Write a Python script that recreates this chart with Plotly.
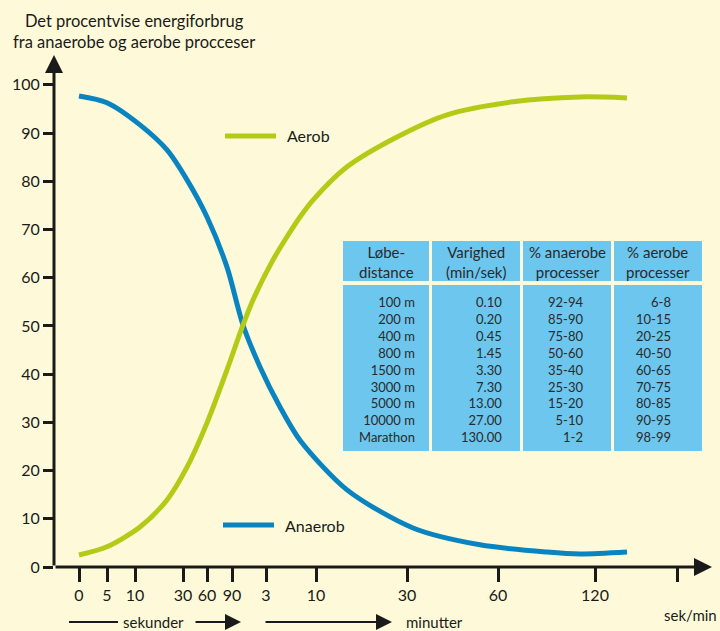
import plotly.graph_objects as go

# ---------------- data ----------------
# positions of the (non-linear) time ticks along the x axis, and their labels
time_tick_pos = [0, 2.8, 5.6, 10.4, 12.8, 15.3, 18.7, 23.7, 32.8, 41.9, 51.6, 59.8]
time_tick_labels = ['0', '5', '10', '30', '60', '90', '3', '10', '30', '60', '120', '']

y_ticks = [0, 10, 20, 30, 40, 50, 60, 70, 80, 90, 100]

anaerob_x = [0, 2.8, 6.1, 8.8, 10.8, 12.8, 14.8, 16.4, 18.1, 20.1, 22.1, 26.8, 33.4, 40.1, 46.8, 50.1, 54.8]
anaerob_y = [97.7, 96.3, 91.7, 86.5, 80.3, 72.6, 62.2, 50.2, 41.5, 33.2, 26.3, 16.0, 8.1, 4.6, 3.1, 2.7, 3.1]

aerob_x = [0, 2.8, 6.1, 8.8, 10.8, 12.8, 14.8, 16.4, 17.4, 19.4, 20.8, 22.1, 23.4, 26.8, 31.8, 36.8, 43.4, 50.1, 54.8]
aerob_y = [2.5, 4.2, 8.3, 13.9, 20.7, 29.9, 40.9, 50.2, 55.4, 63.7, 68.5, 72.6, 76.1, 83.0, 89.2, 93.8, 96.5, 97.5, 97.3]

table_headers = ['Løbe-<br>distance', 'Varighed<br>(min/sek)', '% anaerobe<br>processer', '% aerobe<br>processer']
distances = ['100 m', '200 m', '400 m', '800 m', '1500 m', '3000 m', '5000 m', '10000 m', 'Marathon']
durations = ['0.10', '0.20', '0.45', '1.45', '3.30', '7.30', '13.00', '27.00', '130.00']
anaerobe_pct = ['92-94', '85-90', '75-80', '50-60', '35-40', '25-30', '15-20', '5-10', '1-2']
aerobe_pct = ['6-8', '10-15', '20-25', '40-50', '60-65', '70-75', '80-85', '90-95', '98-99']
table_columns = [distances, durations, anaerobe_pct, aerobe_pct]

# ---------------- style / layout ----------------
W, H = 720, 631
ML, MR, MT, MB = 54, 8, 55, 64
PW, PH = W - ML - MR, H - MT - MB

BG = '#fefad9'
BLUE = '#0a84c0'
GREEN = '#b3cb17'
TABLE = '#6cc6ee'
FONT = 'Lato'
INK = '#1a1a1a'
TINK = '#2a2a2a'


def px(x):  # figure pixel -> paper x
    return (x - ML) / PW


def py(y):  # figure pixel -> paper y
    return (H - MB - y) / PH


fig = go.Figure()

fig.add_trace(go.Scatter(x=anaerob_x, y=anaerob_y, mode='lines',
                         line=dict(color=BLUE, width=5, shape='spline', smoothing=0.8),
                         showlegend=False, hoverinfo='skip'))
fig.add_trace(go.Scatter(x=aerob_x, y=aerob_y, mode='lines',
                         line=dict(color=GREEN, width=5, shape='spline', smoothing=0.8),
                         showlegend=False, hoverinfo='skip'))

annotations = []
shapes = []

# ---- table drawn with shapes + annotations ----
col_edges = [(343, 429), (432, 520), (523, 611), (614, 702)]
head_top, head_bot = 241, 281
body_top, body_bot = 285, 451
body_right_pad = [12, 16, 26, 29]
for i, (x0, x1) in enumerate(col_edges):
    for (t, b) in [(head_top, head_bot), (body_top, body_bot)]:
        shapes.append(dict(type='rect', xref='paper', yref='paper', layer='above',
                           x0=px(x0), x1=px(x1), y0=py(b), y1=py(t),
                           fillcolor=TABLE, line=dict(width=0)))
    annotations.append(dict(x=px((x0 + x1) / 2), y=py((head_top + head_bot) / 2 + 1),
                            xref='paper', yref='paper', xanchor='center', yanchor='middle',
                            align='center', showarrow=False, text=table_headers[i],
                            font=dict(family=FONT, size=15, color=TINK)))
    annotations.append(dict(x=px(x1 - body_right_pad[i]), y=py(369),
                            xref='paper', yref='paper', xanchor='right', yanchor='middle',
                            align='right', showarrow=False, text='<br>'.join(table_columns[i]),
                            font=dict(family=FONT, size=13, color=TINK)))

# axis lines with arrowheads
annotations.append(dict(x=-2.5, y=106.2, ax=-2.5, ay=0, xref='x', yref='y', axref='x', ayref='y',
                        text='', showarrow=True, arrowhead=2, arrowsize=1.2, arrowwidth=3, arrowcolor=INK))
annotations.append(dict(x=63.3, y=0, ax=-2.5, ay=0, xref='x', yref='y', axref='x', ayref='y',
                        text='', showarrow=True, arrowhead=2, arrowsize=1.2, arrowwidth=3, arrowcolor=INK))

# title
annotations.append(dict(x=px(134), y=py(31.5), xref='paper', yref='paper', xanchor='center', yanchor='middle',
                        text='Det procentvise energiforbrug<br>fra anaerobe og aerobe procceser',
                        showarrow=False, align='center', font=dict(family=FONT, size=16.5, color=INK)))

# line labels
annotations.append(dict(x=20.6, y=89.4, xref='x', yref='y', xanchor='left', yanchor='middle',
                        text='Aerob', showarrow=False, font=dict(family=FONT, size=16, color=INK)))
annotations.append(dict(x=20.4, y=8.7, xref='x', yref='y', xanchor='left', yanchor='middle',
                        text='Anaerob', showarrow=False, font=dict(family=FONT, size=16, color=INK)))

# bottom time-unit arrows
yb = py(622)
shapes.append(dict(type='line', xref='paper', yref='paper', x0=px(69), x1=px(118), y0=yb, y1=yb,
                   line=dict(color=INK, width=2)))
annotations.append(dict(x=16.2, y=yb, ax=11.5, ay=0, xref='x', yref='paper', axref='x', ayref='pixel',
                        text='', showarrow=True, arrowhead=2, arrowsize=1.6, arrowwidth=2, arrowcolor=INK))
annotations.append(dict(x=31.3, y=yb, ax=18.5, ay=0, xref='x', yref='paper', axref='x', ayref='pixel',
                        text='', showarrow=True, arrowhead=2, arrowsize=1.6, arrowwidth=2, arrowcolor=INK))
annotations.append(dict(x=px(153.5), y=yb, xref='paper', yref='paper', xanchor='center', yanchor='middle',
                        text='sekunder', showarrow=False, font=dict(family=FONT, size=15, color=INK)))
annotations.append(dict(x=px(404), y=yb, xref='paper', yref='paper', xanchor='left', yanchor='middle',
                        text='minutter', showarrow=False, font=dict(family=FONT, size=15, color=INK)))
annotations.append(dict(x=px(690), y=py(615), xref='paper', yref='paper', xanchor='center', yanchor='middle',
                        text='sek/min', showarrow=False, font=dict(family=FONT, size=15, color=INK)))

shapes += [
    dict(type='line', x0=14.6, x1=19.7, y0=89.4, y1=89.4, xref='x', yref='y',
         line=dict(color=GREEN, width=5)),
    dict(type='line', x0=14.4, x1=19.5, y0=8.7, y1=8.7, xref='x', yref='y',
         line=dict(color=BLUE, width=5)),
]

fig.update_layout(
    width=W, height=H,
    margin=dict(l=ML, r=MR, t=MT, b=MB, autoexpand=False),
    paper_bgcolor=BG, plot_bgcolor=BG,
    font=dict(family=FONT, size=16, color=INK),
    showlegend=False,
    annotations=annotations,
    shapes=shapes,
    xaxis=dict(range=[-2.5, 63.3], showgrid=False, zeroline=False, showline=False, automargin=False,
               tickmode='array', tickvals=time_tick_pos, ticktext=time_tick_labels,
               ticks='outside', ticklen=14, tickwidth=3, tickcolor=INK,
               tickfont=dict(family=FONT, size=16, color=INK)),
    yaxis=dict(range=[0, 106.2], showgrid=False, zeroline=False, showline=False, automargin=False,
               tickmode='array', tickvals=y_ticks,
               ticks='outside', ticklen=10, tickwidth=3, tickcolor=INK,
               tickfont=dict(family=FONT, size=16, color=INK)),
)

fig.write_html('out.html',
               config={'displayModeBar': False},
               post_script="document.body.style.margin='0';document.body.style.padding='0';"
                           "document.body.style.background='" + BG + "';")
